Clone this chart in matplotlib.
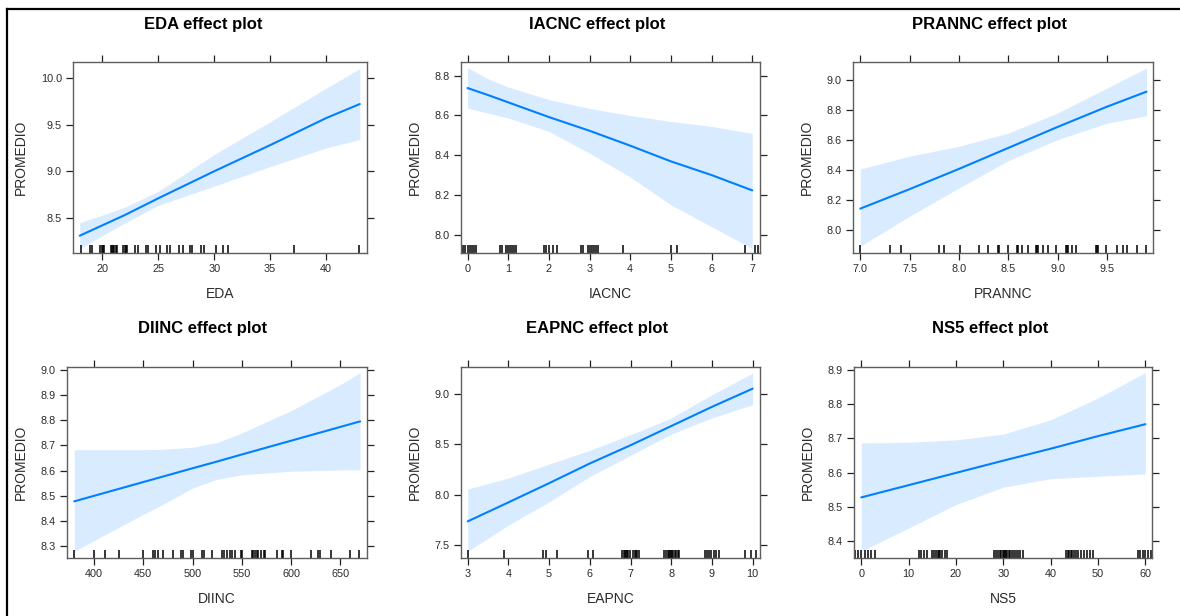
import matplotlib
matplotlib.use("Agg")
import matplotlib.pyplot as plt
from matplotlib.lines import Line2D
from matplotlib.ticker import FixedLocator, FormatStrFormatter

plt.rcParams['font.family'] = ['Liberation Sans', 'DejaVu Sans']

# ---- effect estimates (fit with 95% band) and observed values ----
eda_x = [18, 20, 22, 25, 30, 35, 40, 43]
eda_fit = [8.31, 8.42, 8.53, 8.71, 9.00, 9.28, 9.57, 9.72]
eda_lo = [8.17, 8.31, 8.445, 8.635, 8.84, 9.05, 9.25, 9.34]
eda_hi = [8.45, 8.53, 8.615, 8.785, 9.18, 9.53, 9.89, 10.10]
eda_obs = [18.1, 18.9, 19.1, 19.85, 19.95, 20.05, 20.15, 20.8, 20.9, 21.0, 21.1,
           21.2, 21.3, 21.9, 22.0, 22.1, 22.2, 22.9, 23.2, 23.9, 24.1, 24.8, 25.2,
           25.75, 26.1, 26.9, 27.2, 27.8, 28.05, 28.8, 29.05, 30.15, 30.8, 31.2,
           37.1, 42.95]

iacnc_x = [0, 0.5, 1, 2, 3, 4, 5, 6, 7]
iacnc_fit = [8.738, 8.703, 8.666, 8.592, 8.523, 8.448, 8.369, 8.300, 8.223]
iacnc_lo = [8.637, 8.612, 8.587, 8.520, 8.410, 8.290, 8.150, 8.040, 7.930]
iacnc_hi = [8.840, 8.785, 8.743, 8.680, 8.635, 8.600, 8.570, 8.545, 8.510]
iacnc_obs = [-0.15, -0.1, -0.05, 0.0, 0.05, 0.1, 0.15, 0.2, 0.8, 0.85, 0.95, 1.0,
             1.05, 1.1, 1.15, 1.2, 1.87, 1.93, 2.0, 2.1, 2.19, 2.78, 2.85, 2.95,
             3.0, 3.05, 3.1, 3.15, 3.2, 3.83, 4.99, 5.16, 6.83, 7.06, 7.14]

prannc_x = [7.0, 7.5, 8.0, 8.5, 9.0, 9.5, 9.9]
prannc_fit = [8.14, 8.27, 8.405, 8.545, 8.685, 8.82, 8.92]
prannc_lo = [7.889, 8.089, 8.278, 8.46, 8.60, 8.71, 8.76]
prannc_hi = [8.404, 8.49, 8.556, 8.644, 8.778, 8.944, 9.078]
prannc_obs = [7.0, 7.3, 7.41, 7.8, 7.85, 8.01, 8.2, 8.29, 8.4, 8.41, 8.5, 8.59, 8.6,
              8.64, 8.7, 8.78, 8.79, 8.8, 8.85, 8.9, 8.98, 9.08, 9.09, 9.1, 9.15,
              9.19, 9.39, 9.4, 9.41, 9.49, 9.6, 9.66, 9.7, 9.8, 9.9]

diinc_x = [380, 400, 450, 470, 500, 525, 550, 600, 650, 670]
diinc_fit = [8.477, 8.499, 8.554, 8.576, 8.609, 8.636, 8.664, 8.719, 8.774, 8.796]
diinc_lo = [8.277, 8.32, 8.425, 8.465, 8.53, 8.565, 8.583, 8.597, 8.602, 8.603]
diinc_hi = [8.683, 8.683, 8.683, 8.685, 8.693, 8.712, 8.75, 8.839, 8.943, 8.99]
diinc_obs = [380, 400, 411, 425, 450, 460, 462, 465, 470, 480, 488, 490, 498, 500,
             510, 512, 520, 530, 532, 535, 538, 540, 543, 549, 550, 560, 561, 563,
             565, 566, 569, 572, 574, 586, 591, 592, 600, 620, 627, 629, 640, 660,
             669]

eapnc_x = [3, 4, 5, 6, 7, 8, 9, 10]
eapnc_fit = [7.737, 7.925, 8.115, 8.31, 8.49, 8.68, 8.87, 9.05]
eapnc_lo = [7.44, 7.70, 7.93, 8.18, 8.39, 8.60, 8.76, 8.891]
eapnc_hi = [8.057, 8.166, 8.304, 8.44, 8.594, 8.76, 8.99, 9.204]
eapnc_obs = [3.0, 3.88, 4.86, 4.92, 5.19, 5.95, 6.07, 6.8, 6.83, 6.86, 6.89, 6.92,
             6.95, 6.98, 7.05, 7.1, 7.13, 7.17, 7.2, 7.81, 7.86, 7.92, 7.95, 7.98,
             8.0, 8.02, 8.05, 8.08, 8.12, 8.16, 8.2, 8.83, 8.88, 8.93, 8.98, 9.05,
             9.1, 9.18, 9.81, 9.96, 10.08]

ns5_x = [0, 10, 20, 30, 40, 50, 60]
ns5_fit = [8.527, 8.563, 8.599, 8.635, 8.67, 8.707, 8.742]
ns5_lo = [8.369, 8.437, 8.506, 8.557, 8.582, 8.589, 8.596]
ns5_hi = [8.687, 8.689, 8.696, 8.713, 8.755, 8.819, 8.894]
ns5_obs = [-1.4, -0.7, 0.0, 0.7, 1.4, 2.1, 2.8, 12.1, 12.6, 13.2, 13.8, 14.9, 15.3,
           15.8, 16.1, 16.4, 16.7, 17.0, 17.7, 18.2, 28.1, 28.5, 28.9, 29.3, 29.6,
           29.9, 30.1, 30.3, 30.5, 30.8, 31.1, 31.5, 31.9, 32.3, 32.7, 33.1, 33.6,
           34.2, 43.3, 43.6, 43.9, 44.2, 44.6, 45.0, 45.4, 45.8, 46.5, 47.0, 47.6,
           48.2, 48.9, 58.4, 58.9, 59.4, 60.0, 60.5, 61.2]

# ---- panel layout: (name, x, fit, lo, hi, obs, xlim, ylim, xticks, yticks, xfmt, yfmt, box px, title x) ----
W, H = 1180, 616
panels = [
    ("EDA", eda_x, eda_fit, eda_lo, eda_hi, eda_obs, (17.4, 43.64), (8.125, 10.17),
     [20, 25, 30, 35, 40], [8.5, 9.0, 9.5, 10.0], "%d", "%.1f", (73, 62, 367, 253), 203),
    ("IACNC", iacnc_x, iacnc_fit, iacnc_lo, iacnc_hi, iacnc_obs, (-0.16, 7.19), (7.908, 8.869),
     [0, 1, 2, 3, 4, 5, 6, 7], [8.0, 8.2, 8.4, 8.6, 8.8], "%d", "%.1f", (461, 62, 760, 253), 597),
    ("PRANNC", prannc_x, prannc_fit, prannc_lo, prannc_hi, prannc_obs, (6.926, 9.966), (7.844, 9.118),
     [7.0, 7.5, 8.0, 8.5, 9.0, 9.5], [8.0, 8.2, 8.4, 8.6, 8.8, 9.0], "%.1f", "%.1f", (853, 62, 1153, 253), 990),
    ("DIINC", diinc_x, diinc_fit, diinc_lo, diinc_hi, diinc_obs, (372.6, 677), (8.251, 9.013),
     [400, 450, 500, 550, 600, 650], [8.3, 8.4, 8.5, 8.6, 8.7, 8.8, 8.9, 9.0], "%d", "%.1f",
     (67, 367, 367, 558), 203),
    ("EAPNC", eapnc_x, eapnc_fit, eapnc_lo, eapnc_hi, eapnc_obs, (2.836, 10.18), (7.375, 9.264),
     [3, 4, 5, 6, 7, 8, 9, 10], [7.5, 8.0, 8.5, 9.0], "%d", "%.1f", (461, 367, 760, 558), 597),
    ("NS5", ns5_x, ns5_fit, ns5_lo, ns5_hi, ns5_obs, (-1.54, 61.4), (8.349, 8.91),
     [0, 10, 20, 30, 40, 50, 60], [8.4, 8.5, 8.6, 8.7, 8.8, 8.9], "%d", "%.1f", (854, 367, 1152, 558), 990),
]

LINE = "#0080ff"
FRAME = "#5e5e5e"
TEXT = "#2b2b2b"

fig = plt.figure(figsize=(W / 100, H / 100), dpi=100)
fig.patch.set_facecolor("white")

for (name, x, fit, lo, hi, obs, xlim, ylim, xt, yt, xf, yf, box, tcx) in panels:
    l, t, r, b = box
    ax = fig.add_axes([l / W, 1 - b / H, (r - l) / W, (b - t) / H])
    ax.fill_between(x, lo, hi, color=LINE, alpha=0.15, linewidth=0)
    ax.plot(x, fit, color=LINE, lw=1.5, solid_capstyle="round")
    ax.vlines(obs, 0, 0.042, transform=ax.get_xaxis_transform(), color="black", lw=1.1)
    ax.set_xlim(*xlim)
    ax.set_ylim(*ylim)
    ax.xaxis.set_major_locator(FixedLocator(xt))
    ax.yaxis.set_major_locator(FixedLocator(yt))
    ax.xaxis.set_major_formatter(FormatStrFormatter(xf))
    ax.yaxis.set_major_formatter(FormatStrFormatter(yf))
    ax.tick_params(axis="both", which="major", direction="out", length=5, width=0.9,
                   color="#222222", labelsize=7.8, labelcolor=TEXT, pad=3,
                   top=True, right=True, labeltop=False, labelright=False)
    for sp in ax.spines.values():
        sp.set_color(FRAME)
        sp.set_linewidth(1.0)
    ax.set_xlabel(name, fontsize=10, color=TEXT, labelpad=9)
    ax.set_ylabel("PROMEDIO", fontsize=10, color=TEXT, labelpad=9)
    fig.text(tcx / W, 1 - (t - 38) / H, f"{name} effect plot", ha="center", va="center",
             fontsize=12, fontweight="bold", color="black")

# outer frame (top and left edges)
fig.add_artist(Line2D([7 / W, 1.0], [1 - 9 / H, 1 - 9 / H], transform=fig.transFigure,
                      color="black", lw=1.6))
fig.add_artist(Line2D([7 / W, 7 / W], [0.0, 1 - 9 / H], transform=fig.transFigure,
                      color="black", lw=1.6))

fig.savefig("out.png", dpi=100, facecolor="white")
